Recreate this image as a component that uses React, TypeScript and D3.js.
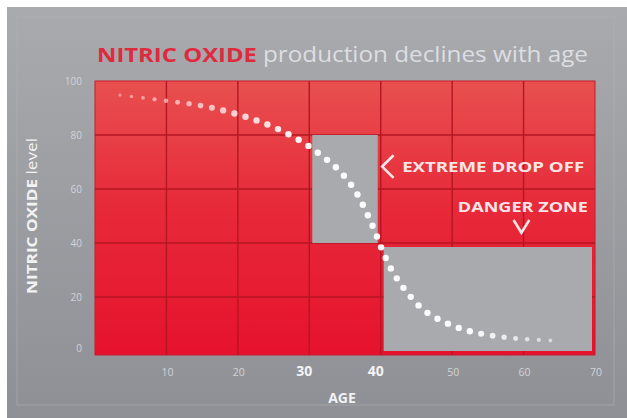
import React, { useEffect, useRef } from "react";
import * as d3 from "d3";

// curve: age -> nitric oxide level
const curveAge = [3.5, 9.9, 14.8, 19.5, 24.4, 28.8, 31.6, 34.2, 36.3, 37.8, 39.2, 40.4, 41.8, 43.9, 46.2, 49.1, 52.2, 55.4, 58.7, 62.1, 65.3];
const curveLevel = [94.8, 92.7, 90.9, 88.0, 83.6, 77.8, 72.6, 66.8, 59.9, 52.5, 44.2, 36.2, 28.8, 21.0, 14.8, 10.5, 7.5, 5.8, 4.7, 4.1, 3.7];

const xTicks = [10, 20, 30, 40, 50, 60, 70];
const boldXTicks = [30, 40];
const yTicks = [0, 20, 40, 60, 80, 100];

// grey zones: [ageFrom, ageTo, levelFrom, levelTo]
const zoneAge = [[30, 40], [40, 70]];
const zoneLevel = [[40, 80], [0, 40]];

const W = 627,
  H = 418;

const App: React.FC = () => {
  const ref = useRef<SVGSVGElement | null>(null);

  useEffect(() => {
    const svg = d3.select(ref.current);
    svg.selectAll("*").remove();

    const margin = { top: 81, right: 32, bottom: 67, left: 95 };
    const x = d3.scaleLinear().domain([0, 70]).range([margin.left, W - margin.right]);
    const y = d3.scaleLinear().domain([0, 100]).range([H - margin.bottom, margin.top]);

    const defs = svg.append("defs");
    const panelGrad = defs.append("linearGradient").attr("id", "panel").attr("x1", 0).attr("y1", 0).attr("x2", 0).attr("y2", 1);
    panelGrad.append("stop").attr("offset", "0%").attr("stop-color", "#a9aaae");
    panelGrad.append("stop").attr("offset", "100%").attr("stop-color", "#8f9095");
    const redGrad = defs.append("linearGradient").attr("id", "red").attr("x1", 0).attr("y1", 0).attr("x2", 0).attr("y2", 1);
    redGrad.append("stop").attr("offset", "0%").attr("stop-color", "#e8504f");
    redGrad.append("stop").attr("offset", "45%").attr("stop-color", "#e72a3a");
    redGrad.append("stop").attr("offset", "100%").attr("stop-color", "#e6122d");

    svg.append("rect").attr("width", W).attr("height", H).attr("fill", "#ffffff");
    svg.append("rect").attr("x", 7).attr("y", 7).attr("width", W - 7).attr("height", H - 7).attr("fill", "url(#panel)");
    svg
      .append("rect")
      .attr("x", 17)
      .attr("y", 17)
      .attr("width", W - 30)
      .attr("height", H - 30)
      .attr("fill", "none")
      .attr("stroke", "#b4b5b9")
      .attr("stroke-opacity", 0.5);

    // plot background
    svg
      .append("rect")
      .attr("x", x(0))
      .attr("y", y(100))
      .attr("width", x(70) - x(0))
      .attr("height", y(0) - y(100) + 4)
      .attr("fill", "url(#red)")
      .attr("stroke", "#c81b2a")
      .attr("stroke-width", 1);

    // grid
    const grid = svg.append("g").attr("stroke", "#b41622").attr("stroke-width", 1.4);
    grid
      .selectAll("line.v")
      .data(xTicks.filter((t) => t < 70))
      .enter()
      .append("line")
      .attr("x1", (d) => x(d))
      .attr("x2", (d) => x(d))
      .attr("y1", y(100))
      .attr("y2", y(0) + 4);
    grid
      .selectAll("line.h")
      .data(yTicks.filter((t) => t > 0 && t < 100))
      .enter()
      .append("line")
      .attr("x1", x(0))
      .attr("x2", x(70))
      .attr("y1", (d) => y(d))
      .attr("y2", (d) => y(d));

    // grey zones
    svg
      .append("g")
      .selectAll("rect")
      .data(zoneAge.map((a, i) => ({ a, l: zoneLevel[i] })))
      .enter()
      .append("rect")
      .attr("x", (d) => x(d.a[0]) + 3)
      .attr("y", (d) => y(d.l[1]) + (d.l[0] === 0 ? 4 : 0))
      .attr("width", (d) => x(d.a[1]) - x(d.a[0]) - 6)
      .attr("height", (d) => y(d.l[0]) - y(d.l[1]) - (d.l[0] === 0 ? 4 : 0))
      .attr("fill", "#a9aaae");

    // dotted curve
    const line = d3
      .line<number>()
      .x((_, i) => x(curveAge[i]))
      .y((d) => y(d))
      .curve(d3.curveCatmullRom);
    const path = svg.append("path").attr("d", line(curveLevel) || "").attr("fill", "none").attr("stroke", "none");
    const node = path.node() as SVGPathElement;
    const total = node.getTotalLength();
    const step = 11.6;
    const n = Math.floor(total / step);
    const pts = d3.range(n + 1).map((i) => node.getPointAtLength(i * step));
    svg
      .append("g")
      .selectAll("circle")
      .data(pts)
      .enter()
      .append("circle")
      .attr("cx", (d) => d.x)
      .attr("cy", (d) => d.y)
      .attr("r", (_, i) => {
        const t = i / n;
        if (t < 0.2) return 1.6 + (t / 0.2) * 1.6;
        if (t > 0.85) return 3.2 - ((t - 0.85) / 0.15) * 1.3;
        return 3.2;
      })
      .attr("fill", "#ffffff")
      .attr("fill-opacity", (_, i) => {
        const t = i / n;
        if (t < 0.35) return 0.4 + (t / 0.35) * 0.55;
        if (t > 0.85) return 0.95 - ((t - 0.85) / 0.15) * 0.4;
        return 0.95;
      });

    // annotations
    const noteColor = "#f8e6e6";
    const ann = svg.append("g").attr("fill", noteColor).attr("font-family", "'Open Sans', sans-serif").attr("font-weight", 700);
    ann
      .append("path")
      .attr("d", `M${x(41.8)},${y(72.5)} L${x(40.2)},${y(68.3)} L${x(41.8)},${y(64.1)}`)
      .attr("fill", "none")
      .attr("stroke", noteColor)
      .attr("stroke-width", 2.6);
    ann
      .append("text")
      .attr("x", x(43))
      .attr("y", y(68.3) + 5.5)
      .attr("font-size", 15)
      .attr("textLength", 182)
      .attr("lengthAdjust", "spacingAndGlyphs")
      .text("EXTREME DROP OFF");
    ann
      .append("text")
      .attr("x", x(50.8))
      .attr("y", y(51.5))
      .attr("font-size", 15)
      .attr("textLength", 130)
      .attr("lengthAdjust", "spacingAndGlyphs")
      .text("DANGER ZONE");
    ann
      .append("path")
      .attr("d", `M${x(58.6)},${y(48.5)} L${x(59.7)},${y(43.8)} L${x(60.8)},${y(48.5)}`)
      .attr("fill", "none")
      .attr("stroke", noteColor)
      .attr("stroke-width", 2.6);

    // title
    svg
      .append("text")
      .attr("x", 97)
      .attr("y", 62)
      .attr("font-family", "'Open Sans', sans-serif")
      .attr("font-weight", 700)
      .attr("font-size", 20)
      .attr("fill", "#df2a3e")
      .attr("textLength", 160)
      .attr("lengthAdjust", "spacingAndGlyphs")
      .text("NITRIC OXIDE");
    svg
      .append("text")
      .attr("x", 263)
      .attr("y", 62)
      .attr("font-family", "'Open Sans', sans-serif")
      .attr("font-weight", 400)
      .attr("font-size", 21)
      .attr("fill", "#dddee1")
      .attr("textLength", 325)
      .attr("lengthAdjust", "spacingAndGlyphs")
      .text("production declines with age");

    // x tick labels
    svg
      .append("g")
      .attr("font-family", "'Open Sans', sans-serif")
      .attr("text-anchor", "middle")
      .selectAll("text")
      .data(xTicks)
      .enter()
      .append("text")
      .attr("x", (d) => x(d) + (boldXTicks.includes(d) ? -5 : 1))
      .attr("y", y(0) + 25)
      .attr("font-size", (d) => (boldXTicks.includes(d) ? 14 : 10.5))
      .attr("font-weight", (d) => (boldXTicks.includes(d) ? 700 : 400))
      .attr("fill", (d) => (boldXTicks.includes(d) ? "#f4f4f5" : "#d2d3d6"))
      .text((d) => d);

    svg
      .append("text")
      .attr("x", (x(0) + x(70)) / 2 - 3)
      .attr("y", 403)
      .attr("text-anchor", "middle")
      .attr("font-family", "'Open Sans', sans-serif")
      .attr("font-weight", 700)
      .attr("font-size", 14)
      .attr("fill", "#f2f2f3")
      .text("AGE");

    // y tick labels
    svg
      .append("g")
      .attr("font-family", "'Open Sans', sans-serif")
      .attr("text-anchor", "end")
      .attr("font-size", 10)
      .attr("fill", "#d2d3d6")
      .selectAll("text")
      .data(yTicks)
      .enter()
      .append("text")
      .attr("x", 82)
      .attr("y", (d) => y(d) + 4 - (d === 0 ? 3 : 0))
      .text((d) => d);

    // y axis title
    const yt = svg
      .append("text")
      .attr("transform", `translate(37,${(y(0) + y(100)) / 2}) rotate(-90)`)
      .attr("text-anchor", "middle")
      .attr("font-family", "'Open Sans', sans-serif")
      .attr("font-size", 14)
      .attr("fill", "#f2f2f3")
      .attr("textLength", 156)
      .attr("lengthAdjust", "spacingAndGlyphs");
    yt.append("tspan").attr("font-weight", 700).text("NITRIC OXIDE ");
    yt.append("tspan").attr("font-weight", 400).text("level");
  }, []);

  return <svg ref={ref} width={W} height={H} style={{ position: "absolute", left: 0, top: 0 }}></svg>;
};

export default App;
